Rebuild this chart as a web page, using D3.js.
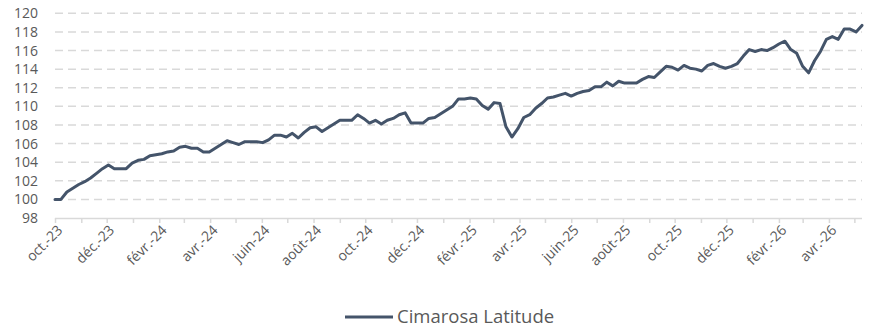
<!DOCTYPE html>
<html>
<head>
<meta charset="utf-8">
<script src="https://cdn.jsdelivr.net/npm/d3@7"></script>
<style>
  html, body { margin: 0; padding: 0; background: #ffffff; }
  svg { display: block; }
  text { font-family: "Open Sans", "DejaVu Sans", sans-serif; fill: #595959; }
</style>
</head>
<body>
<svg id="chart" width="872" height="328"></svg>
<script>
// Weekly index level, base 100 on the first week of October 2023
const seriesName = "Cimarosa Latitude";
const firstWeek = "2023-10-01";
const indexValues = [
  100.0, 100.0, 100.8, 101.2, 101.6, 101.9, 102.3, 102.8, 103.3, 103.7,
  103.3, 103.3, 103.3, 103.9, 104.2, 104.3, 104.7, 104.8, 104.9, 105.1,
  105.2, 105.6, 105.7, 105.5, 105.5, 105.1, 105.1, 105.5, 105.9, 106.3,
  106.1, 105.9, 106.2, 106.2, 106.2, 106.1, 106.4, 106.9, 106.9, 106.7,
  107.1, 106.6, 107.2, 107.7, 107.8, 107.3, 107.7, 108.1, 108.5, 108.5,
  108.5, 109.1, 108.7, 108.2, 108.5, 108.1, 108.5, 108.7, 109.1, 109.3,
  108.2, 108.2, 108.2, 108.7, 108.8, 109.2, 109.6, 110.0, 110.8, 110.8,
  110.9, 110.8, 110.1, 109.7, 110.4, 110.3, 107.8, 106.7, 107.6, 108.8,
  109.1, 109.8, 110.3, 110.9, 111.0, 111.2, 111.4, 111.1, 111.4, 111.6,
  111.7, 112.1, 112.1, 112.6, 112.2, 112.7, 112.5, 112.5, 112.5, 112.9,
  113.2, 113.1, 113.7, 114.3, 114.2, 113.9, 114.4, 114.1, 114.0, 113.8,
  114.4, 114.6, 114.3, 114.1, 114.3, 114.6, 115.4, 116.1, 115.9, 116.1,
  116.0, 116.3, 116.7, 117.0, 116.1, 115.7, 114.3, 113.6, 114.9, 115.9,
  117.2, 117.5, 117.2, 118.3, 118.3, 118.0, 118.7
];
const yTicks = [98, 100, 102, 104, 106, 108, 110, 112, 114, 116, 118, 120];
const monthLabels = [
  "oct.-23", "déc.-23", "févr.-24", "avr.-24", "juin-24", "août-24",
  "oct.-24", "déc.-24", "févr.-25", "avr.-25", "juin-25", "août-25",
  "oct.-25", "déc.-25", "févr.-26", "avr.-26"
];

const parse = d3.timeParse("%Y-%m-%d");
const start = parse(firstWeek);
const data = indexValues.map((v, i) => ({ date: d3.timeDay.offset(start, 7 * i), value: v }));

const svg = d3.select("#chart");
const plot = { left: 55, right: 862, top: 13.3, bottom: 218 };

const x = d3.scaleTime()
  .domain(d3.extent(data, d => d.date))
  .range([plot.left, plot.right]);
const y = d3.scaleLinear()
  .domain([98, 120])
  .range([plot.bottom, plot.top]);

// Dashed horizontal gridlines
svg.append("g")
  .selectAll("line")
  .data(yTicks.filter(t => t !== 98))
  .join("line")
  .attr("x1", plot.left)
  .attr("x2", plot.right)
  .attr("y1", d => y(d))
  .attr("y2", d => y(d))
  .attr("stroke", "#d9d9d9")
  .attr("stroke-width", 1.5)
  .attr("stroke-dasharray", "8,5");

// Y axis labels
const yAxis = svg.append("g")
  .attr("transform", `translate(${plot.left},0)`)
  .call(d3.axisLeft(y).tickValues(yTicks).tickSize(0).tickPadding(17).tickFormat(d3.format("d")));
yAxis.select(".domain").remove();
yAxis.selectAll("text")
  .style("font-size", "14px")
  .attr("fill", "#595959");

// X axis: a tick each month, a label every second month
const months = d3.timeMonth.range(start, d3.timeDay.offset(x.domain()[1], 1));
const xAxis = svg.append("g")
  .attr("transform", `translate(0,${plot.bottom})`)
  .call(d3.axisBottom(x)
    .tickValues(months)
    .tickSizeInner(5)
    .tickSizeOuter(0)
    .tickFormat((d, i) => (i % 2 === 0 ? (monthLabels[i / 2] || "") : "")));
xAxis.select(".domain")
  .attr("d", `M${plot.left},0.5H${plot.right}`)
  .attr("stroke", "#d9d9d9")
  .attr("stroke-width", 1.5);
xAxis.selectAll(".tick line")
  .attr("stroke", "#d9d9d9")
  .attr("stroke-width", 1.5);
xAxis.selectAll(".tick text")
  .style("font-size", "14px")
  .attr("fill", "#595959")
  .attr("text-anchor", "end")
  .attr("dy", 0)
  .attr("y", 0)
  .attr("transform", "translate(8,13) rotate(-45)");

// Index line
svg.append("path")
  .datum(data)
  .attr("fill", "none")
  .attr("stroke", "#44546a")
  .attr("stroke-width", 3)
  .attr("stroke-linejoin", "round")
  .attr("stroke-linecap", "round")
  .attr("d", d3.line().x(d => x(d.date)).y(d => y(d.value)));

// Legend
const legend = svg.append("g").attr("transform", "translate(345,317)");
legend.append("line")
  .attr("x1", 0).attr("x2", 48)
  .attr("y1", 0).attr("y2", 0)
  .attr("stroke", "#44546a")
  .attr("stroke-width", 3);
legend.append("text")
  .attr("x", 52)
  .attr("y", 0)
  .attr("dy", "0.33em")
  .style("font-size", "18.5px")
  .text(seriesName);
</script>
</body>
</html>
